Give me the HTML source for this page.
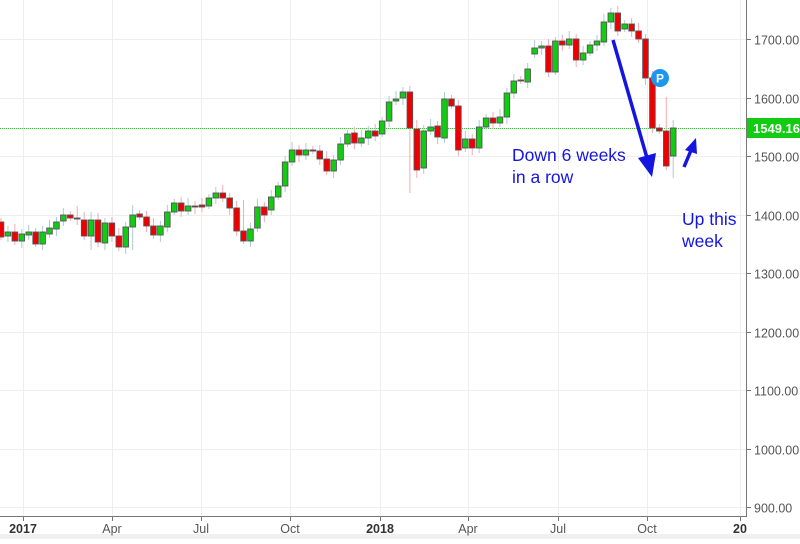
<!DOCTYPE html>
<html><head><meta charset="utf-8"><style>
body{margin:0;background:#fff;width:800px;height:539px;overflow:hidden;font-family:"Liberation Sans",sans-serif}
</style></head><body>
<svg id="s" width="800" height="539" xmlns="http://www.w3.org/2000/svg" font-family="Liberation Sans, sans-serif">
<rect x="0" y="534" width="800" height="5" fill="#f0f0f0"/>
<g id="grid" stroke="#eeeeee" stroke-width="1"></g>
<line x1="0" y1="128.5" x2="746" y2="128.5" stroke="#2ecc2e" stroke-dasharray="1,1"/>
<g id="c"></g>
<line x1="746.5" y1="0" x2="746.5" y2="517" stroke="#777"/>
<line x1="0" y1="516.5" x2="747" y2="516.5" stroke="#777"/>
<g id="ax" font-size="12.5" fill="#555"></g>
<rect x="747" y="118" width="53" height="20" fill="#11cc11"/>
<text x="753" y="133" font-size="13" font-weight="bold" fill="#fff">1549.16</text>
<!-- arrows -->
<line x1="613" y1="40" x2="647" y2="158" stroke="#1515e0" stroke-width="3.5"/>
<polygon points="652,177 638,158 656,153" fill="#1515e0"/>
<line x1="684" y1="167" x2="692" y2="148" stroke="#1515e0" stroke-width="3.5"/>
<polygon points="696,138 685,150 697,154" fill="#1515e0"/>
<text x="512" y="161" font-size="17.5" fill="#1515e0">Down 6 weeks</text>
<text x="512" y="183" font-size="17.5" fill="#1515e0">in a row</text>
<text x="682" y="225" font-size="17.5" fill="#1515e0">Up this</text>
<text x="682" y="247" font-size="17.5" fill="#1515e0">week</text>
<circle cx="660" cy="78" r="9" fill="#1e96ee"/>
<text x="660" y="82.5" font-size="12" font-weight="bold" fill="#fff" text-anchor="middle">P</text>
</svg>
<script>
var NS="http://www.w3.org/2000/svg";
function el(p,t,a,txt){var e=document.createElementNS(NS,t);for(var k in a)e.setAttribute(k,a[k]);if(txt)e.textContent=txt;document.getElementById(p).appendChild(e);}
function py(p){return 39+(1700-p)*0.5855;}
for(var p=900;p<=1700;p+=100){var y=Math.round(py(p))+0.5;el("grid","line",{x1:0,y1:y,x2:746,y2:y});el("ax","line",{x1:746,y1:y,x2:751,y2:y,stroke:"#777"});el("ax","text",{x:754,y:y+5},p.toFixed(2));}
var xt=[[23,"2017",1],[112,"Apr"],[201,"Jul"],[290,"Oct"],[380,"2018",1],[468,"Apr"],[558,"Jul"],[647,"Oct"],[740,"20",1]];
xt.forEach(function(t){var x=t[0]+0.5;el("grid","line",{x1:x,y1:0,x2:x,y2:516});el("ax","line",{x1:x,y1:516,x2:x,y2:521,stroke:"#777"});var a={x:t[0],y:533,"text-anchor":"middle"};if(t[2]){a["font-weight"]="bold";a.fill="#333";}el("ax","text",a,t[1]);});
var d=[["R",222,237],["G",232,236],["R",232,241],["G",234,241],["G",232,235],["R",232,244],["G",232,244],["G",228,234],["G",222,229],["G",215,221],
["R",215,218],["R",218,219],["R",220,236],["G",220,236],["R",220,242],["G",223,243],["R",223,236],["R",236,247],["G",227,247],["G",215,227],
["R",214,217],["R",217,226],["R",226,235],["G",226,235],["G",212,227],["G",203,212],["R",203,211],["G",206,211],["R",206,207],["R",205,207],
["G",198,206],["G",193,198],["R",193,198],["R",198,208],["R",208,231],["R",231,241],["G",229,241],["G",207,228],["R",207,215],["G",197,210],
["G",186,197],["G",162,186],["G",150,162],["R",150,155],["G",150,155],["R",150,151],["R",151,159],["R",159,171],["G",160,171],["G",144,160],
["G",134,144],["R",133,143],["G",138,143],["G",131,138],["R",131,136],["G",121,134],["G",102,121],["G",99,101],["G",92,98],["R",92,128],
["R",129,170],["G",131,168],["G",127,131],["R",126,137],["G",99,138],["R",99,106],["R",106,150],["G",139,148],["R",139,148],["G",127,148],
["G",118,127],["R",118,123],["G",117,123],["G",93,117],["G",81,93],["R",80,81],["G",69,82],["G",48,54],["G",46,48],["R",46,72],
["G",41,72],["R",41,45],["G",39,45],["R",39,60],["G",53,60],["G",45,53],["G",41,45],["G",22,42],["G",13,22],["R",13,31],
["G",24,29],["R",24,31],["R",31,39],["R",39,78],["R",78,128],["R",128,131],["R",131,166],["G",128,156]];
var wk={60:[86,193],61:[120,178],97:[97,170],98:[120,178],99:[121,180],20:[205,250],16:[218,250],14:[212,250],36:[200,244],12:[206,225]};
d.forEach(function(c,i){var n=i+1;var x=1+i*6.93;var w=wk[n]||[c[1]-4-(i*7%5),c[2]+3+(i*3%5)];
el("c","line",{x1:x,y1:w[0],x2:x,y2:w[1],stroke:c[0]=="G"?"#aaccd6":"#f5aab4","stroke-width":1});
var h=Math.max(1,c[2]-c[1]);
el("c","rect",{x:x-2.8,y:c[1],width:5.6,height:h,fill:c[0]=="G"?"#11cc11":"#ee0000",stroke:"#555","stroke-width":0.9});});
</script>
</body></html>
